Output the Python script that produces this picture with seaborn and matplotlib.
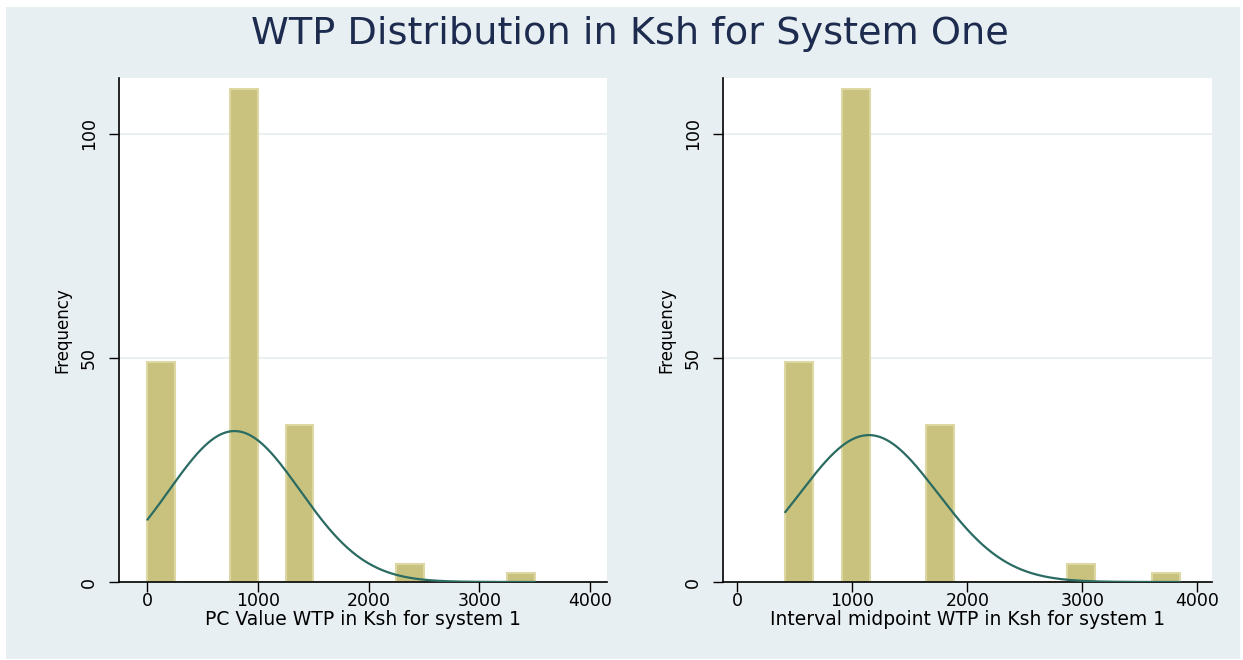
import numpy as np
import pandas as pd
import matplotlib
matplotlib.use("Agg")
import matplotlib.pyplot as plt
import seaborn as sns
from matplotlib.patches import Rectangle

# ---------------- data ----------------
TITLE = "WTP Distribution in Ksh for System One"

# Left panel: PC value WTP, 14 bins of width 250 from 0 to 3500
pc_bin_centers = [125, 875, 1375, 2375, 3375]
pc_counts = [49, 110, 35, 4, 2]
pc_range = [0, 3500]
pc_nbins = 14
pc_norm_mean = 787
pc_norm_sd = 592
pc_xlabel = "PC Value WTP in Ksh for system 1"

# Right panel: interval midpoint WTP, 14 bins from 415 to 3850
mid_bin_centers = [537.7, 1028.4, 1764.5, 2991.3, 3727.4]
mid_counts = [49, 110, 35, 4, 2]
mid_range = [415, 3850]
mid_nbins = 14
mid_norm_mean = 1143
mid_norm_sd = 597
mid_xlabel = "Interval midpoint WTP in Ksh for system 1"

x_ticks = [0, 1000, 2000, 3000, 4000]
y_ticks = [0, 50, 100]
y_label = "Frequency"

# ---------------- style ----------------
sns.set_theme(style="white")
plt.rcParams["font.family"] = ["DejaVu Sans"]

BG = "#e8eff2"
BAR = "#c9c27f"
BAR_EDGE = "#dcd7a3"
CURVE = "#2a6b62"
TITLE_COLOR = "#1d2b4f"
GRID = "#e6eef0"

W, H = 1243, 660
fig = plt.figure(figsize=(W / 100, H / 100), dpi=100, facecolor="white")
fig.patches.append(Rectangle((6 / W, 1 - 659 / H), (1240 - 6) / W, (659 - 7) / H,
                             transform=fig.transFigure, facecolor=BG,
                             edgecolor="none", zorder=-10))

fig.text(630 / W, 1 - 34 / H, TITLE, ha="center", va="center",
         fontsize=27.5, color=TITLE_COLOR)


def panel(rect, centers, counts, rng, nbins, mu, sd, xlabel, xlim):
    ax = fig.add_axes(rect)
    ax.set_facecolor("white")
    df = pd.DataFrame({"x": centers, "n": counts})
    edges = [float(e) for e in np.linspace(rng[0], rng[1], nbins + 1)]
    width = edges[1] - edges[0]
    sns.histplot(data=df, x="x", weights="n", bins=edges, ax=ax,
                 color=BAR, edgecolor=BAR_EDGE, linewidth=1.5, alpha=1,
                 zorder=2)
    total = float(np.sum(counts))
    xs = np.linspace(rng[0], rng[1], 400)
    ys = total * width * np.exp(-0.5 * ((xs - mu) / sd) ** 2) / (sd * np.sqrt(2 * np.pi))
    sns.lineplot(x=xs, y=ys, ax=ax, color=CURVE, linewidth=1.6, zorder=3)
    ax.set_xlim(*xlim)
    ax.set_ylim(0, 112.5)
    ax.set_xticks(x_ticks)
    ax.set_yticks(y_ticks)
    ax.set_xticklabels([str(t) for t in x_ticks])
    ax.set_yticklabels([str(t) for t in y_ticks], rotation=90, va="center")
    ax.yaxis.grid(True, color=GRID, linewidth=1.2, zorder=0)
    ax.xaxis.grid(False)
    ax.set_axisbelow(True)
    for s in ["top", "right"]:
        ax.spines[s].set_visible(False)
    for s in ["left", "bottom"]:
        ax.spines[s].set_color("black")
        ax.spines[s].set_linewidth(1.2)
    ax.tick_params(axis="x", which="major", direction="out", length=7,
                   width=1.0, color="black", labelsize=12.5, labelcolor="black",
                   bottom=True, pad=0)
    ax.tick_params(axis="y", which="major", direction="out", length=7,
                   width=1.0, color="black", labelsize=12.5, labelcolor="black",
                   left=True, pad=8)
    ax.set_xlabel(xlabel, fontsize=13.5, color="black", labelpad=0)
    ax.set_ylabel(y_label, fontsize=12, color="black", labelpad=6)
    return ax


ax_h0, ax_h = 1 - 582 / H, (582 - 78) / H
panel([119 / W, ax_h0, (607 - 119) / W, ax_h], pc_bin_centers, pc_counts,
      pc_range, pc_nbins, pc_norm_mean, pc_norm_sd, pc_xlabel, (-257, 4153))
panel([723 / W, ax_h0, (1212 - 723) / W, ax_h], mid_bin_centers, mid_counts,
      mid_range, mid_nbins, mid_norm_mean, mid_norm_sd, mid_xlabel, (-126, 4128))

fig.savefig("out.png", dpi=100, facecolor="white")
